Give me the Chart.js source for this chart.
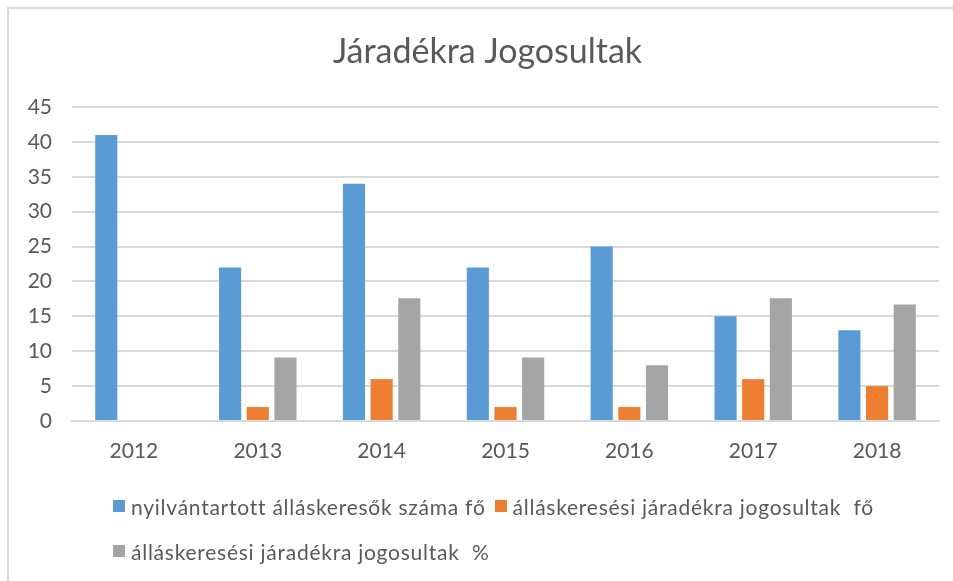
<!DOCTYPE html>
<html>
<head>
<meta charset="utf-8">
<script src="https://cdn.jsdelivr.net/npm/chart.js@4"></script>
<style>
  html, body { margin: 0; padding: 0; background: #fff; }
  #wrap { position: relative; width: 953px; height: 581px; overflow: hidden; }
  #frame { position: absolute; left: 7px; top: 7px; width: 960px; height: 600px;
           border-left: 2px solid #d9d9d9; border-top: 2px solid #d9d9d9; pointer-events: none; }
  canvas { position: absolute; left: 0; top: 0; }
  #legend { position: absolute; left: 113px; top: 494px; width: 820px;
            display: flex; flex-wrap: wrap; column-gap: 9px; row-gap: 21px;
            font-family: Lato, "Open Sans", sans-serif; font-size: 21px; letter-spacing: 0.75px; color: #595959; }
  .item { display: flex; align-items: center; height: 24px; white-space: pre; }
  .box { width: 12px; height: 12px; margin-right: 6px; flex: none; }
</style>
</head>
<body>
<div id="wrap">
  <canvas id="c" width="953" height="581"></canvas>
  <div id="frame"></div>
  <div id="legend"></div>
</div>
<script>
const categories = ['2012', '2013', '2014', '2015', '2016', '2017', '2018'];
const seriesNames = [
  'nyilvántartott álláskeresők száma fő',
  'álláskeresési járadékra jogosultak  fő',
  'álláskeresési járadékra jogosultak  %'
];
const registered = [41, 22, 34, 22, 25, 15, 13];
const entitled = [null, 2, 6, 2, 2, 6, 5];
const entitledPct = [null, 9.1, 17.6, 9.1, 8, 17.6, 16.7];
const colors = ['#5B9BD5', '#ED7D31', '#A5A5A5'];
const yTicks = [0, 5, 10, 15, 20, 25, 30, 35, 40, 45];

const FONT = 'Lato, "Open Sans", sans-serif';
const TXT = '#595959';
const GRID = '#d9d9d9';

const shiftTitle = {
  id: 'shiftTitle',
  afterLayout(chart) {
    const t = chart.titleBlock;
    if (t) { t.left += 13; t.right += 13; }
  }
};

const values = [registered, entitled, entitledPct];
const chart = new Chart(document.getElementById('c'), {
  type: 'bar',
  data: {
    labels: categories,
    datasets: values.map((v, i) => ({
      label: seriesNames[i],
      data: v,
      backgroundColor: colors[i],
      borderWidth: 0,
      categoryPercentage: 0.67,
      barPercentage: 0.8
    }))
  },
  plugins: [shiftTitle],
  options: {
    responsive: false,
    animation: false,
    devicePixelRatio: 1,
    layout: { padding: { left: 10, right: 14, top: 10, bottom: 110 } },
    plugins: {
      legend: { display: false },
      tooltip: { enabled: false },
      title: {
        display: true,
        text: 'Járadékra Jogosultak',
        color: TXT,
        font: { family: FONT, size: 34, weight: 'normal' },
        padding: { top: 21.5, bottom: 34.7 }
      }
    },
    scales: {
      x: {
        grid: { display: false, drawTicks: false },
        border: { display: true, color: GRID, width: 2 },
        ticks: { color: TXT, font: { family: FONT, size: 21 }, padding: 18, maxRotation: 0 },
        afterFit(s) { s.height = 50; }
      },
      y: {
        min: 0, max: 45,
        afterBuildTicks(s) { s.ticks = yTicks.map(v => ({ value: v })); },
        grid: { color: GRID, lineWidth: 2, drawTicks: false },
        border: { display: false },
        ticks: { color: TXT, font: { family: FONT, size: 21 }, padding: 20 },
        afterFit(s) { s.width = 62; }
      }
    }
  }
});

const legend = document.getElementById('legend');
chart.data.datasets.forEach(ds => {
  const it = document.createElement('div');
  it.className = 'item';
  const b = document.createElement('span');
  b.className = 'box';
  b.style.background = ds.backgroundColor;
  const t = document.createElement('span');
  t.textContent = ds.label;
  it.appendChild(b); it.appendChild(t);
  legend.appendChild(it);
});
</script>
</body>
</html>
